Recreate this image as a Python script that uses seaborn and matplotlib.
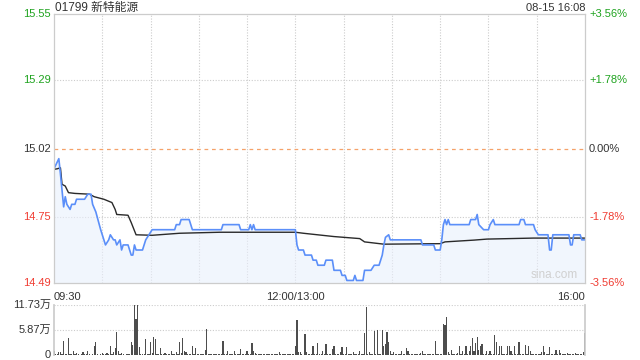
import numpy as np
import pandas as pd
import matplotlib
matplotlib.use("Agg")
import matplotlib.pyplot as plt
import seaborn as sns

sns.set_theme(style="white")
plt.rcParams['font.family'] = ['Liberation Sans', 'Noto Sans CJK SC', 'DejaVu Sans']

title = "01799 新特能源"
stamp = "08-15 16:08"
prev_close = 15.02
price_ticks = [14.49, 14.75, 15.02, 15.29, 15.55]
price_labels = ["14.49", "14.75", "15.02", "15.29", "15.55"]
pct_labels = ["-3.56%", "-1.78%", "0.00%", "+1.78%", "+3.56%"]
time_labels = ["09:30", "12:00/13:00", "16:00"]
vol_ticks = [0, 5.87, 11.73]
vol_labels = ["0", "5.87万", "11.73万"]

# price line knots (minute index since 09:30, trading minutes)
price_min = [0, 3, 4, 6, 7, 8, 10, 11, 13, 14, 19, 21, 23, 24, 26, 29, 30, 32, 34, 35,
             37, 38, 39, 41, 42, 43, 46, 48, 49, 50, 51, 55, 57, 59, 61, 75, 76, 78, 79, 84,
             86, 104, 105, 115, 116, 121, 122, 123, 124, 125, 150, 151, 152, 155, 156, 160,
             161, 163, 164, 168, 169, 173, 174, 178, 179, 181, 182, 186, 187, 188, 192, 193,
             197, 199, 202, 203, 204, 205, 206, 208, 209, 228, 229, 236, 237, 240, 241, 242,
             243, 244, 245, 246, 258, 259, 262, 263, 264, 267, 270, 271, 273, 274, 289, 290,
             292, 293, 298, 299, 301, 307, 308, 309, 310, 320, 321, 322, 323, 327, 328, 330]
price_val = [14.94, 14.98, 14.92, 14.79, 14.83, 14.80, 14.78, 14.80, 14.80, 14.82, 14.82,
             14.84, 14.84, 14.80, 14.77, 14.70, 14.68, 14.64, 14.66, 14.68,
             14.66, 14.66, 14.64, 14.66, 14.62, 14.64, 14.64, 14.60, 14.60, 14.64, 14.62,
             14.62, 14.66, 14.68, 14.70, 14.70, 14.72, 14.72, 14.74, 14.74,
             14.70, 14.70, 14.72, 14.72, 14.70, 14.70, 14.72, 14.70, 14.72, 14.70, 14.70,
             14.64, 14.62, 14.62, 14.60, 14.60,
             14.58, 14.58, 14.56, 14.56, 14.58, 14.58, 14.54, 14.54, 14.52, 14.52, 14.50,
             14.50, 14.52, 14.50, 14.50, 14.54,
             14.54, 14.56, 14.56, 14.58, 14.60, 14.64, 14.67, 14.68, 14.66, 14.66, 14.64,
             14.64, 14.62, 14.62, 14.66, 14.72,
             14.74, 14.72, 14.74, 14.72, 14.72, 14.74, 14.74, 14.76, 14.72, 14.70, 14.70,
             14.72, 14.74, 14.72, 14.72, 14.74,
             14.74, 14.72, 14.72, 14.70, 14.68, 14.68, 14.62, 14.62, 14.68, 14.68, 14.64,
             14.64, 14.68, 14.68, 14.66, 14.66]

# average price line knots
avg_min = [0, 2, 4, 5, 7, 9, 13, 22, 25, 31, 36, 38, 39, 46, 48, 51, 61, 78, 103, 150,
           155, 174, 190, 193, 205, 240, 243, 261, 269, 298, 330]
avg_val = [14.938, 14.940, 14.944, 14.879, 14.872, 14.846, 14.843, 14.840, 14.830, 14.820,
           14.807, 14.780, 14.760, 14.757, 14.728, 14.680, 14.678, 14.686, 14.690, 14.690,
           14.686, 14.673, 14.665, 14.652, 14.643, 14.645, 14.652, 14.659, 14.663, 14.667,
           14.667]

# volume per minute (万)
volume = [
    1.0, 0.3, 0.2, 0.8, 0.6, 0.3, 3.3, 0.2, 0.3, 3.9,
    0.2, 0.3, 1.0, 0.2, 0.4, 0.2, 0.1, 0.3, 0.6, 0.2,
    0.3, 1.0, 0.2, 0.1, 0.3, 2.0, 3.0, 0.2, 0.1, 0.2,
    0.4, 0.2, 0.3, 0.4, 0.2, 2.0, 0.3, 0.6, 1.6, 5.3,
    0.9, 0.3, 0.4, 0.2, 0.1, 0.2, 0.3, 0.2, 3.0, 2.3,
    11.6, 8.4, 11.73, 1.8, 0.2, 0.3, 0.2, 3.7, 0.3, 0.2,
    3.0, 0.4, 4.1, 3.75, 0.3, 0.2, 1.6, 0.3, 0.2, 0.4,
    0.2, 0.3, 0.2, 0.9, 0.3, 0.2, 0.8, 0.3, 3.0, 0.4,
    3.9, 1.0, 0.6, 0.2, 0.3, 0.2, 2.0, 0.3, 1.6, 0.2,
    0.3, 0.2, 0.3, 0.2, 1.1, 6.0, 0.3, 0.2, 0.3, 0.2,
    0.3, 0.2, 0.3, 0.2, 0.3, 3.3, 0.3, 0.2, 0.9, 0.3,
    0.2, 0.3, 0.9, 0.2, 0.3, 0.2, 1.3, 0.3, 0.2, 0.3,
    0.9, 0.2, 0.3, 2.7, 0.9, 0.5, 0.2, 0.3, 0.2, 0.3,
    0.2, 0.3, 0.2, 0.3, 0.2, 0.3, 0.2, 0.3, 0.2, 0.3,
    0.6, 0.2, 0.3, 0.2, 0.3, 0.2, 0.3, 0.2, 0.3, 0.2,
    2.0, 8.1, 0.6, 0.6, 0.3, 0.1, 4.8, 0.6, 0.3, 0.2,
    0.3, 2.0, 0.3, 0.2, 2.7, 0.3, 0.2, 1.0, 0.3, 2.5,
    0.3, 0.2, 0.3, 1.4, 2.2, 0.3, 0.2, 0.3, 0.6, 1.8,
    0.3, 0.2, 1.8, 0.3, 0.2, 0.3, 0.6, 0.3, 0.2, 0.3,
    1.0, 0.3, 0.2, 5.1, 11.2, 0.3, 0.8, 0.3, 0.2, 5.5,
    0.3, 5.7, 0.2, 0.3, 5.7, 2.0, 2.5, 5.3, 3.0, 1.0,
    0.3, 0.6, 0.2, 0.3, 0.2, 0.3, 0.9, 0.3, 0.2, 1.6,
    0.9, 0.3, 0.2, 0.3, 0.2, 0.3, 0.2, 0.3, 0.5, 0.9,
    0.3, 0.2, 0.3, 0.2, 0.3, 0.2, 0.3, 3.3, 0.3, 0.2,
    0.3, 0.2, 7.3, 7.0, 8.8, 0.6, 0.3, 1.2, 0.3, 0.2,
    0.3, 0.4, 2.1, 0.3, 0.9, 0.3, 2.1, 0.2, 1.0, 2.1,
    3.9, 1.0, 2.7, 4.1, 1.2, 2.0, 2.6, 0.3, 0.2, 0.9,
    0.3, 0.9, 0.2, 0.3, 4.7, 3.0, 0.3, 2.0, 2.0, 0.2,
    0.3, 0.2, 2.0, 2.0, 1.0, 0.3, 2.0, 0.2, 0.3, 3.0,
    0.3, 0.2, 0.3, 2.3, 0.3, 2.0, 1.0, 0.3, 0.2, 0.3,
    0.2, 0.3, 0.2, 0.6, 2.1, 0.8, 0.3, 0.2, 1.8, 0.3,
    0.2, 0.3, 1.2, 0.3, 1.2, 0.5, 0.3, 0.2, 0.3, 0.5,
    0.2, 0.3, 0.2, 0.3, 0.4, 0.2, 0.3, 0.2, 0.3, 0.8,
    5.1]
vol_min = list(range(len(volume)))

GREEN = "#1fa31f"
RED = "#f03c32"
DARK = "#333333"
GRID = "#cccccc"

fig = plt.figure(figsize=(6.4, 3.6), dpi=100)
ax = fig.add_axes([54/640, 1-283/360, 531/640, 269/360])
axv = fig.add_axes([54/640, 1-355/360, 531/640, 50.5/360])

pdf = pd.DataFrame({"m": price_min, "p": price_val})
adf = pd.DataFrame({"m": avg_min, "p": avg_val})

ax.fill_between(price_min, price_val, 14.49, color="#e9f0fc", alpha=0.6, lw=0)
sns.lineplot(data=adf, x="m", y="p", ax=ax, color="#2a2a2a", lw=1.0)
sns.lineplot(data=pdf, x="m", y="p", ax=ax, color="#5b8ff9", lw=1.2)

ax.set_xlim(0, 330)
ax.set_ylim(14.49, 15.55)
ax.set_xlabel("")
ax.set_ylabel("")
for x in range(30, 330, 30):
    ax.axvline(x, color=GRID, lw=0.8, ls=(0, (1, 1.5)), zorder=0)
for y in [15.29, 14.75]:
    ax.axhline(y, color=GRID, lw=0.8, ls=(0, (1, 1.5)), zorder=0)
ax.axhline(prev_close, color="#f5a26a", lw=0.9, ls=(0, (3, 3)), zorder=0)
for s in ax.spines.values():
    s.set_color(GRID)
    s.set_linewidth(0.9)
ax.set_xticks([])
ax.set_yticks([])

lcols = [RED, RED, DARK, GREEN, GREEN]
for v, lab, pl, c in zip(price_ticks, price_labels, pct_labels, lcols):
    ax.text(-3/531*330, v, lab, ha="right", va="center", fontsize=8, color=c,
            transform=ax.transData, clip_on=False)
    ax.text(330 + 4/531*330, v, pl, ha="left", va="center", fontsize=8, color=c,
            transform=ax.transData, clip_on=False)

ax.text(0, -0.035, time_labels[0], transform=ax.transAxes, ha="left", va="top", fontsize=8, color=DARK)
ax.text(150/330, -0.035, time_labels[1], transform=ax.transAxes, ha="center", va="top", fontsize=8, color=DARK)
ax.text(1, -0.035, time_labels[2], transform=ax.transAxes, ha="right", va="top", fontsize=8, color=DARK)
ax.text(0.898, 0.008, "sina.com", transform=ax.transAxes, ha="left", va="bottom", fontsize=8.5, color="#d0d0d0")

fig.text(55/640, 1-8/360, title, ha="left", va="center", fontsize=8.5, color=DARK)
fig.text(585/640, 1-8/360, stamp, ha="right", va="center", fontsize=8, color=DARK)

vdf = pd.DataFrame({"m": vol_min, "v": volume})
sns.barplot(data=vdf, x="m", y="v", ax=axv, native_scale=True, color="#4d4d4d",
            width=0.75, saturation=1, linewidth=0)
axv.set_xlim(0, 330)
axv.set_ylim(0, 11.73)
axv.set_xlabel("")
axv.set_ylabel("")
axv.set_xticks([])
axv.set_yticks([])
for y in [5.87, 11.73]:
    axv.axhline(y, color=GRID, lw=0.8, ls=(0, (1, 1.5)), zorder=0)
axv.spines["top"].set_visible(False)
axv.spines["bottom"].set_visible(False)
axv.spines["left"].set_color(GRID)
axv.spines["right"].set_color(GRID)
for v, lab in zip(vol_ticks, vol_labels):
    axv.text(-3/531*330, v, lab, ha="right", va="center", fontsize=8, color=DARK, clip_on=False)

fig.savefig("out.png", dpi=100, facecolor="white")
